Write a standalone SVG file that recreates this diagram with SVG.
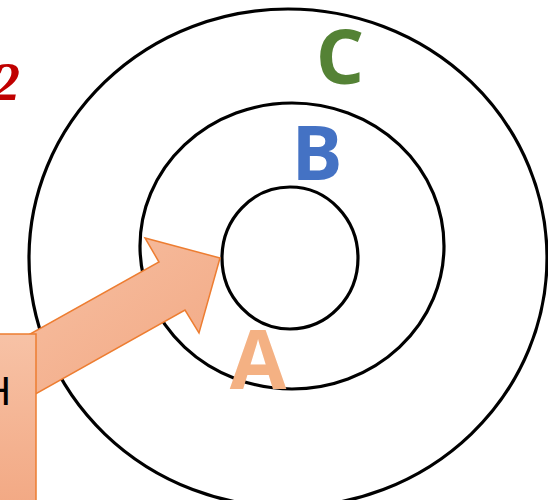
<svg xmlns="http://www.w3.org/2000/svg" width="548" height="500" viewBox="0 0 548 500">
<defs>
<linearGradient id="og" x1="0" y1="0" x2="0" y2="1">
<stop offset="0" stop-color="#F7C2A6"/>
<stop offset="1" stop-color="#F2A680"/>
</linearGradient>
<linearGradient id="ag" x1="0" y1="0" x2="1" y2="1">
<stop offset="0" stop-color="#F7C2A6"/>
<stop offset="1" stop-color="#F2A680"/>
</linearGradient>
<style>
.ring{fill:none;stroke:#000;stroke-width:3.2}
.lbl{font-family:"Open Sans","Liberation Sans",sans-serif;font-weight:bold;text-anchor:middle}
.shape{stroke:#ED7D31;stroke-width:1.5}
</style>
</defs>
<g id="outer"><ellipse class="ring" cx="288" cy="258" rx="259" ry="249"/><text class="lbl" x="340" y="84" font-size="76" fill="#548235">C</text></g>
<g id="middle"><ellipse class="ring" cx="292" cy="246" rx="152" ry="143"/><text class="lbl" x="317" y="180" font-size="76" fill="#4472C4">B</text></g>
<g id="inner"><ellipse class="ring" cx="290" cy="258" rx="68" ry="71"/></g>
<g id="labelA"><text class="lbl" x="258" y="389" font-size="82" fill="#F4B183">A</text></g>
<g id="connectors">
<polygon class="shape" fill="url(#ag)" points="220,258 145,238 159,262 -20,362 -20,425 185,310 199,333"/>
</g>
<g id="box">
<rect class="shape" fill="url(#og)" x="-20" y="334" width="56" height="190"/>
<text x="11" y="405" font-family="'Liberation Sans',Arial,sans-serif" font-size="40" text-anchor="end" fill="#000">H</text>
</g>
<g id="num"><text x="20" y="100" font-family="'Liberation Serif','Times New Roman',serif" font-style="italic" font-weight="bold" font-size="54" text-anchor="end" fill="#C00000">2</text></g>
</svg>
